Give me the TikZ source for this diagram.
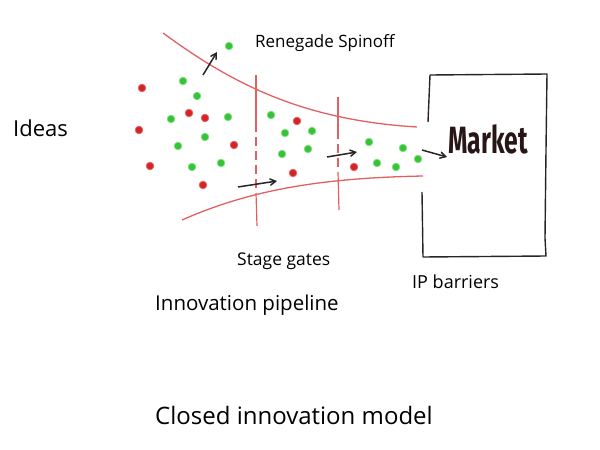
\documentclass[tikz,border=0pt]{standalone}
\usepackage{fontspec}
\setmainfont{Open Sans}
\newfontfamily\marketfont[FakeStretch=0.65]{Fira Sans}
\usetikzlibrary{arrows}
\definecolor{pipered}{RGB}{226,96,96}
\definecolor{ideared}{RGB}{212,36,36}
\definecolor{ideagreen}{RGB}{52,196,52}
\definecolor{marketink}{RGB}{40,22,22}

\begin{document}
\begin{tikzpicture}[x=1pt,y=-1pt,>=angle 60,
        pipe/.style={draw=pipered,line width=1.3pt},
        gate/.style={draw=pipered,line width=1.2pt},
        flow/.style={->,line width=1.5pt,black!85},
        label/.style={font=\fontsize{17}{20}\selectfont,inner sep=0pt},
        red idea/.style={fill=ideared,draw=ideared!70!white,line width=0.8pt},
        green idea/.style={fill=ideagreen,draw=ideagreen!60!white,line width=0.8pt}
    ]
    \useasboundingbox (0,0) rectangle (600,450);

    % Pipeline walls
    \draw[pipe] (163,33) .. controls (230,82) and (300,120) .. (417,127);
    \draw[pipe] (182,220) .. controls (250,190) and (320,178) .. (423,176);

    % Stage gates
    \draw[gate] (256,75) -- (256,123);
    \draw[gate,dash pattern=on 9pt off 5pt] (256,123) -- (256,193);
    \draw[gate] (256,193) -- (257,226);
    \draw[gate] (338,97) -- (338,130);
    \draw[gate,dash pattern=on 9pt off 5pt] (338,130) -- (338,172);
    \draw[gate] (338,172) -- (339,210);

    % Ideas
    \foreach \x/\y in {142/88,189/113,205/118,139/130,234/145,150/166,203/185,
                       297/121,293/173,354/167}
        \filldraw[red idea] (\x,\y) circle (3.8);
    \foreach \x/\y in {183/81,197/96,171/119,228/117,205/137,178/146,192/167,221/163,
                       271/115,285/133,312/131,282/154,308/149,
                       369/142,403/148,377/163,396/167,418/159,229/46}
        \filldraw[green idea] (\x,\y) circle (3.8);

    % Market
    \node[font=\marketfont\bfseries\fontsize{38}{40}\selectfont,text=marketink,inner sep=0pt]
        (market) at (488,139) {Market};
    \draw[line width=1.4pt,black!85,line join=round]
        (428,122) -- (430,75) -- (547,74) -- (546,150) -- (545,238) -- (546,256)
        -- (423,257) -- (422,192);

    % Flow arrows
    \coordinate (spinA) at (203,75);  \coordinate (spinB) at (217,52);
    \coordinate (gateA) at (238,187); \coordinate (gateB) at (277,181);
    \coordinate (gateC) at (327,157); \coordinate (gateD) at (357,152);
    \coordinate (mktA)  at (422,150); \coordinate (mktB)  at (447,157);
    \draw[flow] (spinA) -- (spinB);
    \draw[flow] (gateA) -- (gateB);
    \draw[flow] (gateC) -- (gateD);
    \draw[flow] (mktA) -- (mktB);

    % Labels
    \node[label,anchor=west] (spinoff) at (255,43) {Renegade Spinoff};
    \node[label,anchor=west,font=\fontsize{22}{25}\selectfont] (ideas) at (13,128) {Ideas};
    \node[label,anchor=west,font=\fontsize{17.5}{20}\selectfont] (gates) at (237,261) {Stage gates};
    \node[label,anchor=west,font=\fontsize{18}{21}\selectfont] (ip) at (412,282) {IP barriers};
    \node[label,anchor=west,font=\fontsize{20.5}{24}\selectfont] (pipeline) at (155,305) {Innovation pipeline};
    \node[label,anchor=west,font=\fontsize{24}{28}\selectfont] (model) at (155,415) {Closed innovation model};
\end{tikzpicture}
\end{document}
